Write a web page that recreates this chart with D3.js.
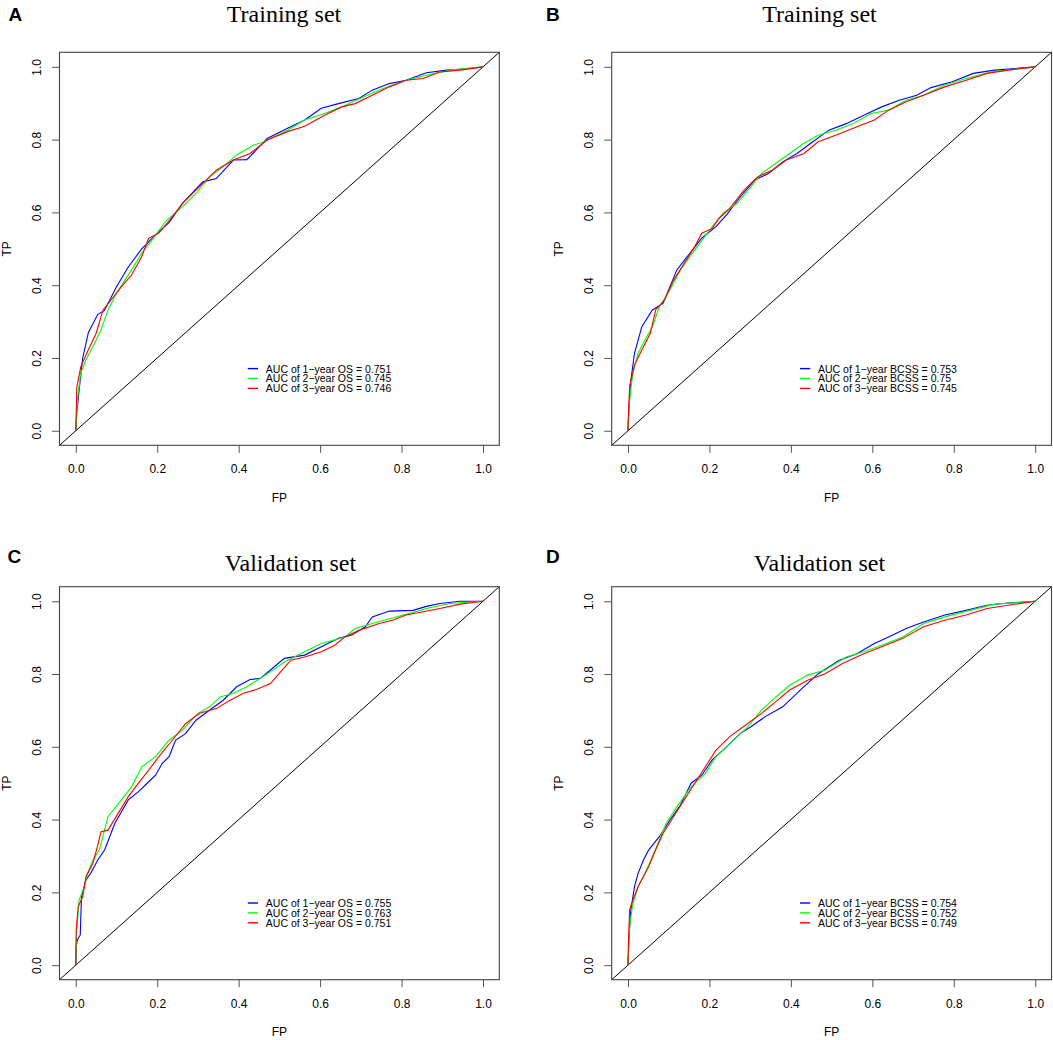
<!DOCTYPE html>
<html>
<head>
<meta charset="utf-8">
<script src="https://cdn.jsdelivr.net/npm/d3@7"></script>
<style>
  body { margin: 0; background: #fff; }
  svg text { fill: #000; }
</style>
</head>
<body>
<svg id="roc"></svg>
<script>
// ---- data: [FP, TP] pairs ----
let trainOS1 = [[0,0],[0.0025,0.05],[0.008,0.11],[0.017,0.2],[0.031,0.27],[0.054,0.32],[0.07,0.33],[0.1,0.396],[0.129,0.45],[0.162,0.5],[0.2,0.543],[0.229,0.572],[0.262,0.625],[0.312,0.684],[0.345,0.693],[0.387,0.744],[0.42,0.745],[0.47,0.803],[0.52,0.831],[0.562,0.854],[0.603,0.886],[0.645,0.899],[0.695,0.913],[0.728,0.936],[0.77,0.954],[0.811,0.963],[0.861,0.984],[0.911,0.991],[0.961,0.995],[1,1]];
let trainOS2 = [[0,0],[0.004,0.085],[0.012,0.158],[0.025,0.195],[0.042,0.231],[0.062,0.277],[0.079,0.332],[0.1,0.378],[0.137,0.442],[0.162,0.488],[0.187,0.524],[0.22,0.575],[0.262,0.616],[0.295,0.652],[0.329,0.698],[0.362,0.726],[0.395,0.758],[0.437,0.785],[0.462,0.794],[0.478,0.803],[0.52,0.826],[0.562,0.854],[0.611,0.872],[0.653,0.89],[0.703,0.916],[0.753,0.94],[0.811,0.963],[0.861,0.977],[0.92,0.991],[1,1]];
let trainOS3 = [[0,0],[0.0025,0.12],[0.0125,0.177],[0.029,0.218],[0.05,0.268],[0.067,0.332],[0.087,0.36],[0.112,0.396],[0.137,0.428],[0.162,0.479],[0.179,0.529],[0.204,0.543],[0.237,0.588],[0.262,0.625],[0.304,0.671],[0.345,0.716],[0.387,0.744],[0.428,0.762],[0.47,0.799],[0.52,0.822],[0.562,0.837],[0.611,0.867],[0.653,0.89],[0.686,0.899],[0.728,0.922],[0.77,0.945],[0.811,0.963],[0.853,0.968],[0.894,0.986],[0.944,0.991],[1,1]];

let trainBCSS1 = [[0,0],[0.002,0.058],[0.006,0.13],[0.016,0.213],[0.034,0.286],[0.06,0.332],[0.086,0.35],[0.103,0.396],[0.12,0.442],[0.146,0.479],[0.181,0.529],[0.216,0.561],[0.242,0.593],[0.276,0.643],[0.311,0.689],[0.345,0.707],[0.38,0.739],[0.415,0.762],[0.449,0.79],[0.493,0.826],[0.536,0.844],[0.588,0.872],[0.623,0.89],[0.666,0.908],[0.709,0.922],[0.744,0.943],[0.796,0.959],[0.848,0.982],[0.9,0.991],[1,1]];
let trainBCSS2 = [[0,0],[0.004,0.085],[0.012,0.158],[0.025,0.213],[0.042,0.25],[0.06,0.286],[0.077,0.341],[0.103,0.387],[0.129,0.442],[0.164,0.497],[0.207,0.561],[0.233,0.597],[0.268,0.625],[0.302,0.671],[0.328,0.707],[0.363,0.735],[0.397,0.762],[0.432,0.79],[0.467,0.812],[0.51,0.826],[0.553,0.844],[0.597,0.872],[0.64,0.881],[0.683,0.908],[0.726,0.922],[0.778,0.95],[0.83,0.968],[0.891,0.986],[1,1]];
let trainBCSS3 = [[0,0],[0.001,0.04],[0.004,0.122],[0.016,0.181],[0.034,0.222],[0.055,0.268],[0.068,0.332],[0.09,0.36],[0.112,0.414],[0.138,0.46],[0.164,0.506],[0.181,0.543],[0.207,0.556],[0.224,0.584],[0.25,0.611],[0.285,0.661],[0.319,0.698],[0.354,0.716],[0.389,0.744],[0.432,0.762],[0.467,0.794],[0.51,0.812],[0.553,0.831],[0.605,0.854],[0.64,0.881],[0.683,0.904],[0.726,0.922],[0.778,0.945],[0.83,0.963],[0.882,0.982],[0.934,0.991],[1,1]];

let validOS1 = [[0,0],[0.001,0.051],[0.004,0.07],[0.011,0.083],[0.014,0.188],[0.025,0.234],[0.037,0.253],[0.054,0.289],[0.071,0.317],[0.096,0.39],[0.129,0.454],[0.154,0.477],[0.179,0.504],[0.196,0.522],[0.212,0.554],[0.229,0.573],[0.245,0.618],[0.27,0.637],[0.295,0.673],[0.329,0.701],[0.362,0.728],[0.395,0.765],[0.428,0.785],[0.453,0.788],[0.478,0.811],[0.512,0.843],[0.562,0.852],[0.603,0.875],[0.645,0.898],[0.678,0.907],[0.711,0.93],[0.728,0.957],[0.77,0.973],[0.828,0.975],[0.861,0.986],[0.894,0.994],[0.944,1],[1,1]];
let validOS2 = [[0,0],[0.002,0.088],[0.008,0.179],[0.021,0.216],[0.029,0.253],[0.042,0.289],[0.058,0.317],[0.079,0.408],[0.112,0.454],[0.137,0.49],[0.162,0.545],[0.196,0.573],[0.229,0.618],[0.262,0.646],[0.3,0.692],[0.329,0.71],[0.354,0.737],[0.387,0.747],[0.42,0.765],[0.478,0.806],[0.512,0.833],[0.562,0.861],[0.603,0.884],[0.661,0.902],[0.686,0.925],[0.728,0.939],[0.77,0.952],[0.811,0.964],[0.861,0.98],[0.919,0.994],[1,1]];
let validOS3 = [[0,0],[0.001,0.097],[0.006,0.161],[0.017,0.188],[0.025,0.243],[0.042,0.28],[0.054,0.33],[0.062,0.367],[0.079,0.371],[0.104,0.417],[0.129,0.463],[0.154,0.5],[0.179,0.536],[0.204,0.573],[0.237,0.618],[0.27,0.664],[0.304,0.692],[0.345,0.705],[0.379,0.728],[0.412,0.747],[0.445,0.758],[0.478,0.774],[0.503,0.806],[0.528,0.838],[0.562,0.847],[0.603,0.861],[0.636,0.879],[0.661,0.902],[0.695,0.92],[0.745,0.939],[0.778,0.948],[0.811,0.962],[0.853,0.971],[0.894,0.98],[0.944,0.992],[1,1]];

let validBCSS1 = [[0,0],[0.002,0.06],[0.006,0.143],[0.016,0.216],[0.025,0.253],[0.038,0.289],[0.051,0.317],[0.077,0.353],[0.103,0.399],[0.129,0.44],[0.155,0.5],[0.181,0.522],[0.207,0.564],[0.242,0.6],[0.276,0.637],[0.302,0.655],[0.337,0.683],[0.38,0.71],[0.423,0.756],[0.467,0.801],[0.519,0.838],[0.562,0.856],[0.605,0.884],[0.64,0.902],[0.683,0.925],[0.726,0.943],[0.778,0.962],[0.83,0.975],[0.882,0.989],[0.934,0.995],[1,1]];
let validBCSS2 = [[0,0],[0.004,0.106],[0.012,0.17],[0.025,0.216],[0.042,0.253],[0.06,0.298],[0.077,0.344],[0.094,0.39],[0.12,0.435],[0.155,0.49],[0.19,0.527],[0.216,0.573],[0.25,0.609],[0.294,0.655],[0.328,0.701],[0.363,0.737],[0.397,0.769],[0.441,0.797],[0.484,0.811],[0.536,0.847],[0.579,0.861],[0.623,0.879],[0.675,0.902],[0.726,0.939],[0.778,0.957],[0.839,0.975],[0.9,0.992],[1,1]];
let validBCSS3 = [[0,0],[0.001,0.06],[0.004,0.152],[0.012,0.179],[0.025,0.216],[0.051,0.271],[0.068,0.317],[0.086,0.362],[0.112,0.408],[0.138,0.454],[0.164,0.5],[0.19,0.545],[0.216,0.591],[0.25,0.628],[0.294,0.664],[0.328,0.692],[0.363,0.724],[0.397,0.756],[0.441,0.783],[0.484,0.801],[0.527,0.829],[0.579,0.856],[0.623,0.875],[0.675,0.898],[0.726,0.93],[0.778,0.948],[0.83,0.962],[0.882,0.98],[0.934,0.989],[1,1]];

let panelLetters = ["A", "B", "C", "D"];
let panelTitles = ["Training set", "Training set", "Validation set", "Validation set"];
let legendA = ["AUC of 1\u2212year OS = 0.751", "AUC of 2\u2212year OS = 0.745", "AUC of 3\u2212year OS = 0.746"];
let legendB = ["AUC of 1\u2212year BCSS = 0.753", "AUC of 2\u2212year BCSS = 0.75", "AUC of 3\u2212year BCSS = 0.745"];
let legendC = ["AUC of 1\u2212year OS = 0.755", "AUC of 2\u2212year OS = 0.763", "AUC of 3\u2212year OS = 0.751"];
let legendD = ["AUC of 1\u2212year BCSS = 0.754", "AUC of 2\u2212year BCSS = 0.752", "AUC of 3\u2212year BCSS = 0.749"];
let tickValues = [0, 0.2, 0.4, 0.6, 0.8, 1.0];
let seriesColors = ["#0000ff", "#00ff00", "#ff0000"];

function getConfig(){
    let width = 1053;
    let height = 1040;
    let boxW = 439.8;
    let boxH = 393;
    let container = d3.select("#roc")
        .attr("width", width)
        .attr("height", height);
    // where each panel sits on the page
    let panels = [
        {x: 59.5,  y: 52.3,  letter: [8.5, 20.7],  title: [284, 21.5],    series: [trainOS1, trainOS2, trainOS3],       legend: legendA},
        {x: 611.7, y: 52.3,  letter: [546, 20.7],  title: [819.5, 21.5],  series: [trainBCSS1, trainBCSS2, trainBCSS3], legend: legendB},
        {x: 59.5,  y: 586.7, letter: [7.5, 562.5], title: [290.5, 570.6], series: [validOS1, validOS2, validOS3],       legend: legendC},
        {x: 611.7, y: 586.7, letter: [546, 562.5], title: [819.5, 570.6], series: [validBCSS1, validBCSS2, validBCSS3], legend: legendD}
    ];
    panels.forEach((p, i) => {
        p.name = panelLetters[i];
        p.titleText = panelTitles[i];
    });
    return {width, height, boxW, boxH, container, panels};
}

function drawPanel(config, p){
    let {boxW, boxH, container} = config;
    let xScale = d3.scaleLinear().domain([-0.04, 1.04]).range([0, boxW]);
    let yScale = d3.scaleLinear().domain([-0.04, 1.04]).range([boxH, 0]);

    container.append("text")
        .attr("x", p.letter[0])
        .attr("y", p.letter[1])
        .text(p.name)
        .style("font-family", "'Liberation Sans', Arial, sans-serif")
        .style("font-weight", "bold")
        .style("font-size", "19px");

    container.append("text")
        .attr("x", p.title[0])
        .attr("y", p.title[1])
        .attr("text-anchor", "middle")
        .text(p.titleText)
        .style("font-family", "'Liberation Serif', 'Times New Roman', serif")
        .style("font-size", "24px");

    let g = container.append("g")
        .attr("transform", "translate(" + p.x + "," + p.y + ")");

    // axes, R style: ticks out, no domain line (the box covers it)
    let xAxis = d3.axisBottom(xScale).tickValues(tickValues).tickSize(7.5).tickPadding(8)
        .tickFormat(d3.format(".1f"));
    let yAxis = d3.axisLeft(yScale).tickValues(tickValues).tickSize(7.5).tickPadding(0)
        .tickFormat(d3.format(".1f"));

    let gx = g.append("g").attr("transform", "translate(0," + boxH + ")").call(xAxis);
    let gy = g.append("g").call(yAxis);
    [gx, gy].forEach(a => {
        a.select(".domain").remove();
        a.selectAll("line").attr("stroke", "#555");
        a.selectAll("text")
            .style("font-family", "'Liberation Sans', Arial, sans-serif")
            .style("font-size", "12px")
            .attr("fill", "#000");
    });
    gy.selectAll("text")
        .attr("x", null).attr("dy", null)
        .attr("text-anchor", "middle")
        .attr("dominant-baseline", "central")
        .attr("transform", "translate(-22.3,0) rotate(-90)");
    gx.selectAll("text").attr("dy", null).attr("y", 24).attr("dominant-baseline", "central");

    // reference diagonal across the whole box
    g.append("line")
        .attr("x1", xScale(-0.04)).attr("y1", yScale(-0.04))
        .attr("x2", xScale(1.04)).attr("y2", yScale(1.04))
        .attr("stroke", "#000")
        .attr("stroke-width", 1);

    let line = d3.line()
        .x(d => xScale(d[0]))
        .y(d => yScale(d[1]));

    g.selectAll(".roc")
        .data(p.series)
        .enter()
        .append("path")
        .attr("class", "roc")
        .attr("d", d => line(d))
        .attr("fill", "none")
        .attr("stroke", (d, i) => seriesColors[i])
        .attr("stroke-width", 1.1);

    g.append("rect")
        .attr("width", boxW)
        .attr("height", boxH)
        .attr("fill", "none")
        .attr("stroke", "#444")
        .attr("stroke-width", 1.1);

    // legend
    let leg = g.append("g").attr("transform", "translate(188.3,316.3)");
    p.legend.forEach((label, i) => {
        leg.append("line")
            .attr("x1", 0).attr("x2", 10.2)
            .attr("y1", i * 9.9).attr("y2", i * 9.9)
            .attr("stroke", seriesColors[i])
            .attr("stroke-width", 1.4);
        leg.append("text")
            .attr("x", 18)
            .attr("y", i * 9.9)
            .attr("dominant-baseline", "central")
            .text(label)
            .style("font-family", "'Liberation Sans', Arial, sans-serif")
            .style("font-size", "10.5px");
    });

    // axis titles
    container.append("text")
        .attr("transform", "translate(" + (p.x - 52.7) + "," + (p.y + boxH / 2) + ") rotate(-90)")
        .attr("text-anchor", "middle")
        .attr("dominant-baseline", "central")
        .text("TP")
        .style("font-family", "'Liberation Sans', Arial, sans-serif")
        .style("font-size", "12px");
    container.append("text")
        .attr("x", p.x + boxW / 2)
        .attr("y", p.y + boxH + 52.7)
        .attr("text-anchor", "middle")
        .attr("dominant-baseline", "central")
        .text("FP")
        .style("font-family", "'Liberation Sans', Arial, sans-serif")
        .style("font-size", "12px");
}

let config = getConfig();
config.panels.forEach(p => drawPanel(config, p));
</script>
</body>
</html>
